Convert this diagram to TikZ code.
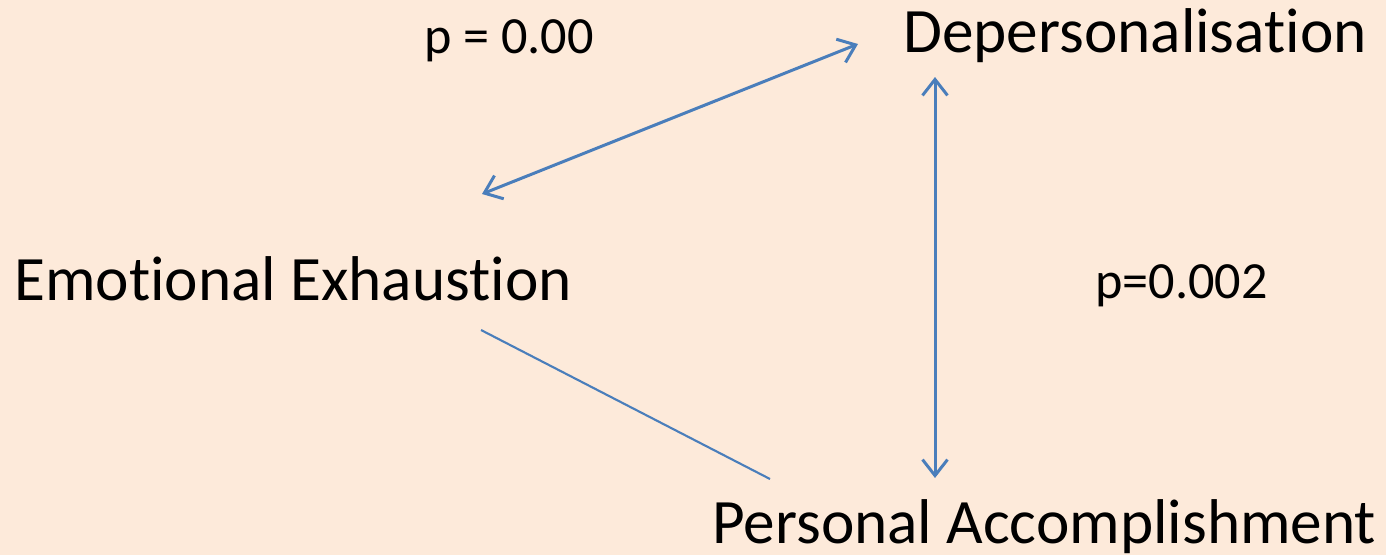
\documentclass[tikz,border=0pt]{standalone}
\usepackage{fontspec}
\setmainfont{Carlito}[Ligatures=NoCommon]
\usetikzlibrary{arrows.meta}
\definecolor{peach}{HTML}{FDEADA}
\definecolor{linkblue}{HTML}{4A7EBB}

\begin{document}
\begin{tikzpicture}[x=0.02cm,y=-0.02cm,
	link/.style={linkblue,line width=1.7pt},
	barbs/.style={{Straight Barb[length=0.32cm,width=0.5cm]}-{Straight Barb[length=0.32cm,width=0.5cm]}}]
	\fill[peach] (0,0) rectangle (1386,555);
	\useasboundingbox (0,0) rectangle (1386,555);
	\node[anchor=base west,inner sep=0,font=\fontsize{36}{43}\selectfont] (exhaust) at (14,300) {Emotional Exhaustion};
	\node[anchor=base west,inner sep=0,font=\fontsize{36}{43}\selectfont] (deperson) at (903,52) {Depersonalisation};
	\node[anchor=base west,inner sep=0,font=\fontsize{36}{43}\selectfont] (accomp) at (712,543) {Personal Accomplishment};
	\node[anchor=base west,inner sep=0,font=\fontsize{29.7}{35}\selectfont] (ptop) at (424,53) {p = 0.00};
	\node[anchor=base west,inner sep=0,font=\fontsize{29.7}{35}\selectfont] (pright) at (1095,298) {p=0.002};
	\coordinate (ee1) at (482,194);
	\coordinate (dp1) at (858,44);
	\coordinate (dp2) at (935,77);
	\coordinate (pa1) at (935,478);
	\coordinate (ee2) at (481,330);
	\coordinate (pa2) at (770,479);
	\draw[link,barbs] (ee1)--(dp1);
	\draw[link,barbs] (dp2)--(pa1);
	\draw[link,line width=1.2pt] (ee2)--(pa2);
\end{tikzpicture}
\end{document}
